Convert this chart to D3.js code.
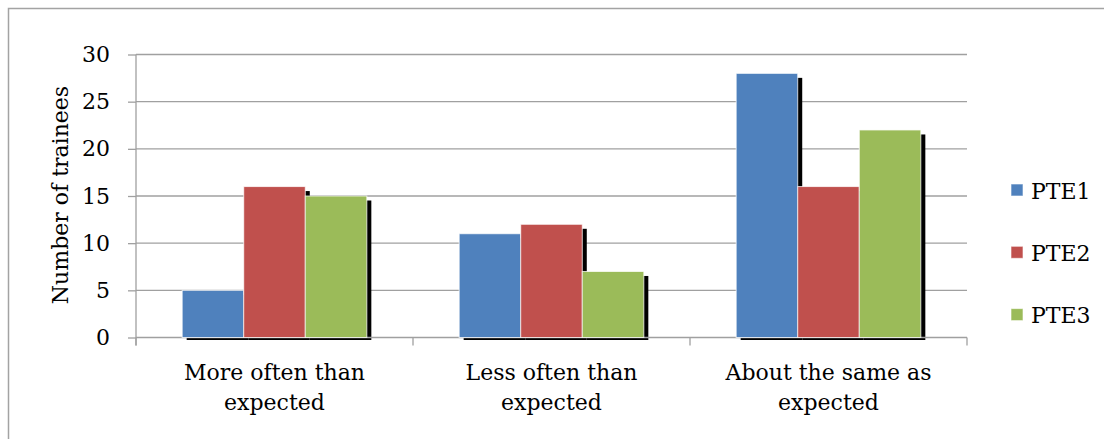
<!DOCTYPE html>
<html>
<head>
<meta charset="utf-8">
<script src="https://cdn.jsdelivr.net/npm/d3@7"></script>
<style>
  html, body { margin: 0; padding: 0; background: #fff; }
  svg { display: block; }
  text { font-family: "DejaVu Serif", "Liberation Serif", serif; fill: #000; }
</style>
</head>
<body>
<svg id="chart" width="1104" height="439"></svg>
<script>
// Survey responses per programme
const categories = [["More often than", "expected"], ["Less often than", "expected"], ["About the same as", "expected"]];
const seriesNames = ["PTE1", "PTE2", "PTE3"];
const pte1 = [5, 11, 28];
const pte2 = [16, 12, 16];
const pte3 = [15, 7, 22];
const yTicks = [0, 5, 10, 15, 20, 25, 30];
const colors = ["#4F81BD", "#C0504D", "#9BBB59"];

const values = [pte1, pte2, pte3];
const catKeys = categories.map(c => c.join(" "));

const svg = d3.select("#chart");
const W = 1104, H = 439;

// outer frame
svg.append("rect")
  .attr("x", 8.5).attr("y", 8.5)
  .attr("width", W + 20).attr("height", H + 20)
  .attr("fill", "none").attr("stroke", "#a3a3a3").attr("stroke-width", 1.5);

const plot = { left: 136, right: 967, top: 54.5, bottom: 337.5 };

const x = d3.scaleBand().domain(catKeys).range([plot.left, plot.right]).paddingInner(0).paddingOuter(0);
const xs = d3.scaleBand().domain(seriesNames).range([0, x.bandwidth()]).paddingInner(0).paddingOuter(0.75);
const y = d3.scaleLinear().domain([0, 30]).range([plot.bottom, plot.top]);

// horizontal gridlines
svg.append("g")
  .selectAll("line")
  .data(yTicks.filter(t => t > 0))
  .join("line")
  .attr("x1", plot.left).attr("x2", plot.right)
  .attr("y1", d => y(d)).attr("y2", d => y(d))
  .attr("stroke", "#a0a0a0").attr("stroke-width", 1.3);

// y axis
const yAxis = svg.append("g")
  .attr("transform", `translate(${plot.left},0)`)
  .call(d3.axisLeft(y).tickValues(yTicks).tickSize(8).tickPadding(18).tickSizeOuter(0));
yAxis.select(".domain").remove();
yAxis.selectAll(".tick line").attr("stroke", "#a0a0a0").attr("stroke-width", 1.3);
yAxis.selectAll(".tick text").attr("font-size", 22).attr("font-family", "DejaVu Serif").attr("fill", "#000");
svg.append("line")
  .attr("x1", plot.left).attr("x2", plot.left)
  .attr("y1", plot.top).attr("y2", plot.bottom + 8)
  .attr("stroke", "#a0a0a0").attr("stroke-width", 1.3);

// y axis title
svg.append("text")
  .attr("transform", `translate(68,${(plot.top + plot.bottom) / 2 - 1}) rotate(-90)`)
  .attr("text-anchor", "middle")
  .attr("font-size", 22)
  .text("Number of trainees");

// bar data
const bars = [];
catKeys.forEach((c, i) => {
  seriesNames.forEach((s, j) => {
    bars.push({ cat: c, series: s, value: values[j][i], color: colors[j] });
  });
});

// drop shadows behind the bars
svg.append("clipPath").attr("id", "shadowClip")
  .append("rect").attr("x", 0).attr("y", 0).attr("width", W).attr("height", plot.bottom + 2.5);
svg.append("g").attr("clip-path", "url(#shadowClip)")
  .selectAll("rect")
  .data(bars)
  .join("rect")
  .attr("x", d => x(d.cat) + xs(d.series) + 4.5)
  .attr("y", d => y(d.value) + 4.5)
  .attr("width", xs.bandwidth())
  .attr("height", d => plot.bottom - y(d.value))
  .attr("fill", "#000");

// x axis baseline and category ticks
svg.append("line")
  .attr("x1", plot.left).attr("x2", plot.right)
  .attr("y1", plot.bottom).attr("y2", plot.bottom)
  .attr("stroke", "#a0a0a0").attr("stroke-width", 1.3);
svg.append("g")
  .selectAll("line")
  .data(catKeys.map(c => x(c)).concat([plot.right]))
  .join("line")
  .attr("x1", d => d).attr("x2", d => d)
  .attr("y1", plot.bottom).attr("y2", plot.bottom + 8)
  .attr("stroke", "#a0a0a0").attr("stroke-width", 1.3);

// bars
svg.append("g")
  .selectAll("rect")
  .data(bars)
  .join("rect")
  .attr("x", d => x(d.cat) + xs(d.series))
  .attr("y", d => y(d.value))
  .attr("width", xs.bandwidth())
  .attr("height", d => plot.bottom - y(d.value))
  .attr("fill", d => d.color)
  .attr("stroke", "#ffffff").attr("stroke-opacity", 0.75).attr("stroke-width", 1);

// category labels (two lines)
const xl = svg.append("g")
  .selectAll("text")
  .data(categories)
  .join("text")
  .attr("text-anchor", "middle")
  .attr("font-size", 22)
  .attr("x", (d, i) => x(catKeys[i]) + x.bandwidth() / 2);
xl.each(function (d) {
  const t = d3.select(this);
  d.forEach((line, k) => {
    t.append("tspan").attr("x", t.attr("x")).attr("y", 380 + k * 30).text(line);
  });
});

// legend
const legend = svg.append("g")
  .selectAll("g")
  .data(seriesNames)
  .join("g")
  .attr("transform", (d, i) => `translate(1011,${184 + i * 62.3})`);
legend.append("rect")
  .attr("width", 12).attr("height", 12)
  .attr("fill", (d, i) => colors[i])
  .attr("stroke", "#ffffff").attr("stroke-opacity", 0.6).attr("stroke-width", 1);
legend.append("text")
  .attr("x", 20).attr("y", 14.5)
  .attr("font-size", 22)
  .text(d => d);
</script>
</body>
</html>
